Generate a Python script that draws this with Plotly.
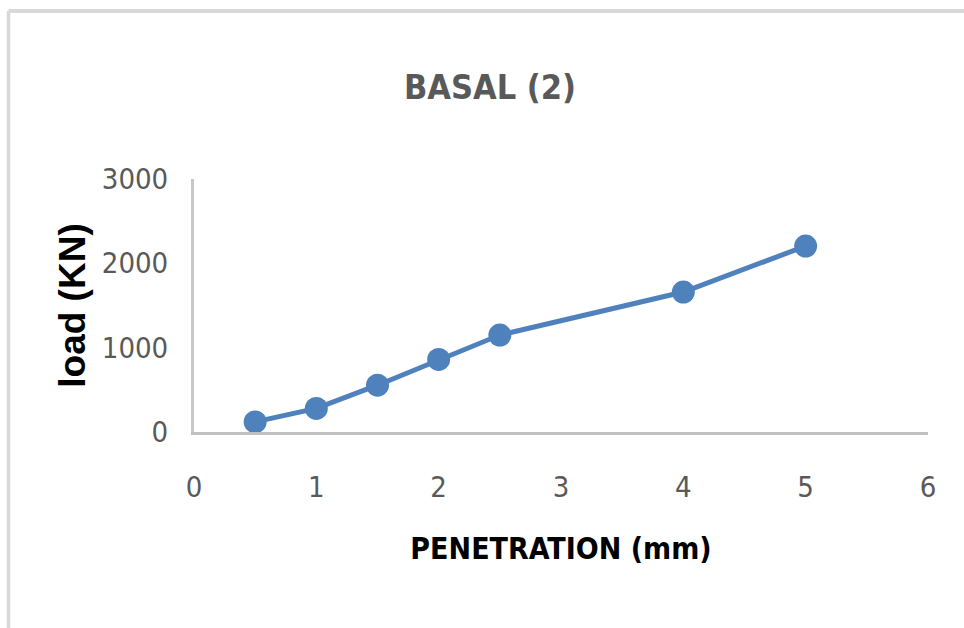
import plotly.graph_objects as go

# Penetration test readings
penetration_mm = [0.5, 1, 1.5, 2, 2.5, 4, 5]
load_kn = [120, 280, 555, 860, 1150, 1660, 2205]

x_ticks = [0, 1, 2, 3, 4, 5, 6]
y_ticks = [0, 1000, 2000, 3000]

W, H = 964, 628
L, R, T, B = 194, 36, 179, 196

def px_to_paper(px, py):
    pw = W - L - R
    ph = H - T - B
    return (px - L) / pw, (H - B - py) / ph

fig = go.Figure()
fig.add_trace(go.Scatter(
    x=penetration_mm,
    y=load_kn,
    mode="lines+markers",
    line=dict(color="#4f81bd", width=5),
    marker=dict(color="#4f81bd", size=23),
    showlegend=False,
    hoverinfo="x+y",
))

narrow = "DejaVu Sans Condensed, Liberation Sans Narrow, sans-serif"

# light frame along the top and left edges
x0, y_top = px_to_paper(8.5, 11)
x1, y_bot = px_to_paper(W + 5, H + 5)
shapes = [
    dict(type="line", xref="paper", yref="paper", x0=x0, x1=x1, y0=y_top, y1=y_top,
         line=dict(color="#d9d9d9", width=4)),
    dict(type="line", xref="paper", yref="paper", x0=x0, x1=x0, y0=y_top, y1=y_bot,
         line=dict(color="#d9d9d9", width=3.5)),
]

fig.update_layout(
    width=W, height=H,
    margin=dict(l=L, r=R, t=T, b=B),
    paper_bgcolor="white",
    plot_bgcolor="white",
    shapes=shapes,
    title=dict(
        text="BASAL (2)",
        font=dict(family=narrow, size=34, color="#595959", weight="bold"),
        x=(490) / W, xanchor="center",
        y=1 - 87 / H, yanchor="middle",
    ),
    xaxis=dict(
        range=[0, 6],
        tickvals=x_ticks,
        ticktext=[str(v) for v in x_ticks],
        showgrid=False, zeroline=False,
        showline=True, linecolor="#c0c0c0", linewidth=3,
        ticks="", ticklabelstandoff=27,
        tickfont=dict(family=narrow, size=29, color="#595959"),
        title=dict(text="PENETRATION (mm)",
                   font=dict(family=narrow, size=30, color="#000000", weight="bold"),
                   standoff=36),
        fixedrange=True,
    ),
    yaxis=dict(
        range=[0, 3000],
        tickvals=y_ticks,
        ticktext=[str(v) for v in y_ticks],
        showgrid=False, zeroline=False,
        showline=True, linecolor="#c8c8c8", linewidth=3,
        ticks="", ticklabelstandoff=17,
        tickfont=dict(family=narrow, size=29, color="#595959"),
        title=dict(text="load (KN)",
                   font=dict(family="Liberation Sans, Arial, sans-serif", size=37,
                             color="#000000", weight="bold"),
                   standoff=5),
        fixedrange=True,
    ),
)

fig.write_html("out.html")
